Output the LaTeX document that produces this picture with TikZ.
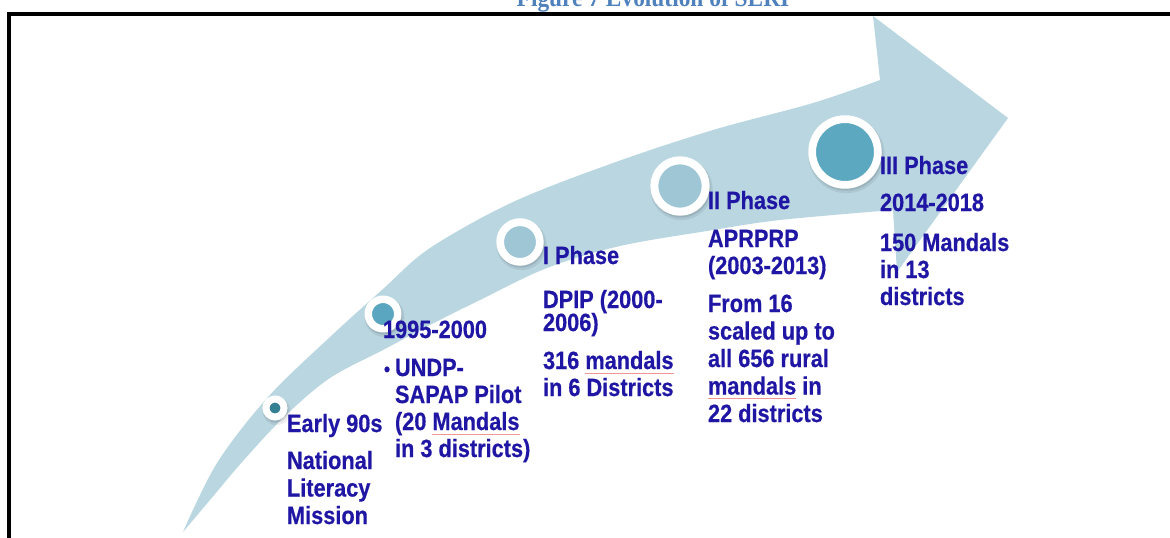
\documentclass[tikz,border=0pt]{standalone}
\usepackage{fontspec}
\setmainfont{Liberation Sans}[FakeStretch=0.87,FakeBold=0.5]
\newfontfamily\titlefont{Liberation Serif}[FakeStretch=0.9]
\definecolor{bandc}{RGB}{186,215,225}
\definecolor{tblue}{RGB}{32,22,164}
\definecolor{titleblue}{RGB}{79,129,189}
\definecolor{dotA}{RGB}{53,127,147}
\definecolor{dotB}{RGB}{90,166,192}
\definecolor{dotC}{RGB}{158,198,213}
\definecolor{dotD}{RGB}{91,168,192}
\definecolor{sqred}{RGB}{240,150,150}
\newcommand\sqw[1]{\setbox0\hbox{#1}\rlap{\color{sqred}\raisebox{-3.2pt}{\rule{\wd0}{0.45pt}}}\box0\relax}
\begin{document}
\begin{tikzpicture}[x=0.75pt,y=-0.75pt,
  txt/.style={anchor=base west, inner sep=0pt, outer sep=0pt, text=tblue,
    font=\fontsize{18.75}{20.6}\selectfont\bfseries},
  ring/.style={circle, draw=white, inner sep=0pt, outer sep=0pt},
  shade1/.style={fill=black, opacity=0.10},
  shade2/.style={fill=black, opacity=0.07}]
\useasboundingbox (0,0) rectangle (1170,537);
% title (cut at top)
\node[anchor=base, inner sep=0pt, text=titleblue,
  font=\titlefont\bfseries\fontsize{19.5}{20}\selectfont] (title) at (653,6) {Figure 7 Evolution of SERI};
% frame
\draw[line width=2.8pt] (1200,14.2) -- (8.8,14.2) -- (8.8,600);
% band arrow
\fill[bandc]
  plot[smooth, tension=0.55] coordinates {(183,532) (217,463) (268,397) (330,337) (383,289) (430,248) (513,202) (613,163) (713,130) (813,103) (880,80)}
  -- (873,16) -- (1008,118) -- (897,272) -- (893,210)
  -- plot[smooth, tension=0.55] coordinates {(893,210) (780,220) (707,231) (620,246) (547,268) (480,300) (430,325) (383,350) (330,378) (285,416) (243,461) (210,500) (183,532)}
  -- cycle;
% circle centres
\coordinate (p0) at (275,408);
\coordinate (p1) at (383,314);
\coordinate (p2) at (520,242);
\coordinate (p3) at (680,186);
\coordinate (p4) at (845,152);
% shadows
\foreach \p/\r in {p0/12.5, p1/18.5, p2/23.7, p3/29.7, p4/36.7}{
  \fill[shade2] ([shift={(1.5,3)}]\p) circle[radius=\r+1.5];
  \fill[shade1] ([shift={(1,2)}]\p) circle[radius=\r];
}
% circles
\node[ring, fill=dotA, line width=5.25pt, minimum size=13.5pt] (c0) at (p0) {};
\node[ring, fill=dotB, line width=5.6pt, minimum size=22.1pt] (c1) at (p1) {};
\node[ring, fill=dotC, line width=5.8pt, minimum size=29.8pt] (c2) at (p2) {};
\node[ring, fill=dotC, line width=6pt, minimum size=38.55pt] (c3) at (p3) {};
\node[ring, fill=dotD, line width=5.8pt, minimum size=49.3pt] (c4) at (p4) {};
% texts: Early 90s
\node[txt] (a1) at (287,432) {Early 90s};
\node[txt] (a2) at (287,469) {National};
\node[txt] (a3) at (287,496.5) {Literacy};
\node[txt] (a4) at (287,524) {Mission};
% 1995-2000
\node[txt] (b1) at (383,338) {1995-2000};
\node[txt] (bb) at (384,376) {\fontsize{15}{18}\selectfont •};
\node[txt] (b2) at (395,376) {UNDP-};
\node[txt] (b3) at (395,403) {SAPAP Pilot};
\node[txt] (b4) at (395,430) {(20 \sqw{Mandals}};
\node[txt] (b5) at (395,457) {in 3 districts)};
% I Phase
\node[txt] (c1t) at (543,264) {I Phase};
\node[txt] (c2t) at (543,308) {DPIP (2000-};
\node[txt] (c3t) at (543,331) {2006)};
\node[txt] (c4t) at (543,369) {316 \sqw{mandals}};
\node[txt] (c5t) at (543,396) {in 6 Districts};
% II Phase
\node[txt] (d1) at (708,209) {II Phase};
\node[txt] (d2) at (708,247) {APRPRP};
\node[txt] (d3) at (708,274) {(2003-2013)};
\node[txt] (d4) at (708,312) {From 16};
\node[txt] (d5) at (708,339.5) {scaled up to};
\node[txt] (d6) at (708,367) {all 656 rural};
\node[txt] (d7) at (708,394.5) {\sqw{mandals} in};
\node[txt] (d8) at (708,422) {22 districts};
% III Phase
\node[txt] (e1) at (880,174) {III Phase};
\node[txt] (e2) at (880,211) {2014-2018};
\node[txt] (e3) at (880,251) {150 Mandals};
\node[txt] (e4) at (880,278) {in 13};
\node[txt] (e5) at (880,305) {districts};
\end{tikzpicture}
\end{document}
